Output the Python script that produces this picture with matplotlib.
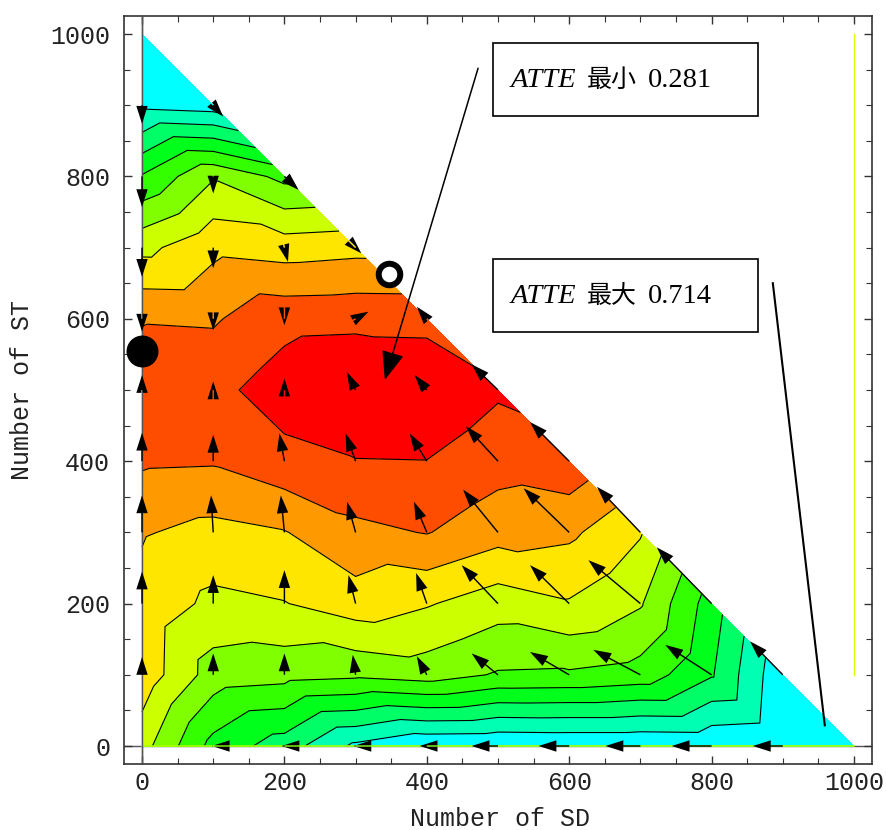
import colorsys
import numpy as np
import matplotlib
matplotlib.use('Agg')
import matplotlib.pyplot as plt
import matplotlib.tri as mtri
from matplotlib.patches import Rectangle
from matplotlib.ticker import MultipleLocator
from matplotlib.offsetbox import TextArea, HPacker, AnnotationBbox

plt.rcParams['font.family'] = ['Liberation Mono', 'DejaVu Sans']

# population grid: SD along x, ST along y, only SD + ST <= 1000
sd_values = [0, 100, 200, 300, 400, 500, 600, 700, 800, 900, 1000]
st_values = [0, 100, 200, 300, 400, 500, 600, 700, 800, 900, 1000]

# ATTE for each SD column, from ST = 0 up to the SD + ST = 1000 edge
atte_by_sd = [
    [0.462, 0.413, 0.411, 0.396, 0.354, 0.340, 0.362, 0.450, 0.553, 0.686, 0.706],
    [0.570, 0.496, 0.448, 0.411, 0.356, 0.332, 0.364, 0.409, 0.482, 0.694],
    [0.616, 0.503, 0.440, 0.401, 0.333, 0.300, 0.333, 0.417, 0.529],
    [0.683, 0.509, 0.417, 0.370, 0.322, 0.281, 0.331, 0.411],
    [0.710, 0.498, 0.435, 0.358, 0.321, 0.289, 0.332],
    [0.712, 0.521, 0.460, 0.383, 0.344, 0.315],
    [0.710, 0.523, 0.442, 0.391, 0.332],
    [0.710, 0.533, 0.474, 0.435],
    [0.708, 0.592, 0.576],
    [0.714, 0.706],
    [0.710],
]

# change of (SD, ST) at every grid point, same layout as atte_by_sd
flow_sd = [
    [0, 0, 0, 0, 0, 0, 0, 0, 0, 0, 0],
    [-2, 0, 0, -3, 0, 0, 0, 0, 0, 14],
    [-4, 0, 0, -5, -7, 0, 0, 5, 20],
    [-3, -4, -10, -12, -14, -12, 18, 8],
    [-10, -14, -15, -18, -24, -17, -14],
    [-37, -37, -51, -49, -45, -37],
    [-43, -55, -55, -64, -55],
    [-49, -66, -73, -61],
    [-56, -65, -77],
    [-42, -46],
    [0],
]
flow_st = [
    [0, 25, 45, 52, 40, 21, -18, -41, -43, -26, 0],
    [0, 30, 40, 52, 37, 12, -16, -29, -24, -16],
    [0, 30, 47, 52, 39, 16, -9, -20, -19],
    [0, 28, 40, 43, 39, 25, 10, -8],
    [0, 26, 43, 43, 39, 21, 17],
    [0, 30, 54, 60, 49, 36],
    [0, 32, 54, 62, 55],
    [0, 35, 61, 64],
    [0, 42, 79],
    [0, 47],
    [0],
]

# equilibria: on the ST axis and on the SD + ST = 1000 edge
stable_st_axis = (0, 555)
stable_edge = (347, 663)

atte_min, atte_max = 0.281, 0.714

# flatten the grid and build the triangles of the simplex
xs, ys, zs, us, vs = [], [], [], [], []
idx = {}
for i, col in enumerate(atte_by_sd):
    for j, z in enumerate(col):
        idx[(i, j)] = len(xs)
        xs.append(sd_values[i])
        ys.append(st_values[j])
        zs.append(z)
        us.append(flow_sd[i][j])
        vs.append(flow_st[i][j])
xs, ys, zs = np.array(xs), np.array(ys), np.array(zs)
us, vs = np.array(us, float), np.array(vs, float)

n = len(sd_values) - 1
tris = []
for i in range(n):
    for j in range(n - i):
        tris.append([idx[(i, j)], idx[(i + 1, j)], idx[(i, j + 1)]])
        if i + j + 1 < n:
            tris.append([idx[(i + 1, j)], idx[(i + 1, j + 1)], idx[(i, j + 1)]])
tri = mtri.Triangulation(xs, ys, tris)

levels = np.linspace(atte_min, atte_max, 12)
band_colors = [colorsys.hsv_to_rgb(0.05 * k, 1, 1) for k in range(11)]

fig = plt.figure(figsize=(8.87, 8.30), dpi=100)
ax = fig.add_axes([0.1398, 0.0795, 0.8433, 0.9012])

ax.axvline(0, color='#555555', lw=1.0, zorder=0.5)
ax.axhline(0, color='#555555', lw=1.0, zorder=0.5)

ax.tricontourf(tri, zs, levels=levels, colors=band_colors, zorder=1)
ax.tricontour(tri, zs, levels=levels[1:-1], colors='black', linewidths=0.8, zorder=2)

# thin coloured seams along the bottom edge and the SD = 1000 side
ax.plot([sd_values[0], sd_values[-1]], [st_values[0], st_values[0]],
        color='#A6FF00', lw=1.2, zorder=2.5)
ax.plot([sd_values[-1], sd_values[-1]], [st_values[1], st_values[-1]],
        color='#DDFF00', lw=1.0, zorder=2.5)
ax.axvline(0, color='#555555', lw=1.0, zorder=2.6)

moving = (us != 0) | (vs != 0)
ax.quiver(xs[moving], ys[moving], us[moving], vs[moving],
          angles='xy', scale_units='xy', scale=1, units='xy',
          width=2.0, headwidth=8.0, headlength=12.5, headaxislength=12.5,
          minshaft=0, minlength=0, color='black', zorder=3)

ax.plot(*stable_st_axis, 'o', ms=22, color='black', zorder=4, clip_on=False)
ax.plot(*stable_edge, 'o', ms=15.5, mfc='white', mec='black', mew=4.3, zorder=4)

# callouts for the extreme values
ax.annotate('', xy=(341, 514), xytext=(472, 952),
            arrowprops=dict(arrowstyle='-|>,head_length=1.8,head_width=0.7',
                            mutation_scale=10, color='black', lw=1.1,
                            shrinkA=0, shrinkB=0), zorder=5)
ax.plot([886, 959], [650, 29], color='black', lw=1.5, zorder=5)


def atte_box(word, value, y0, y1):
    ax.add_patch(Rectangle((493, y0), 372, y1 - y0, facecolor='white',
                           edgecolor='black', lw=1.2, zorder=5))
    parts = [
        TextArea('ATTE', textprops=dict(family='Liberation Serif', style='italic', size=20.5)),
        TextArea(word, textprops=dict(family='Noto Sans CJK SC', size=18)),
        TextArea(value, textprops=dict(family='Liberation Serif', size=20.5)),
    ]
    pack = HPacker(children=parts, align='baseline', pad=0, sep=8)
    ab = AnnotationBbox(pack, (517, (y0 + y1) / 2), xycoords='data',
                        box_alignment=(0, 0.5), frameon=False, pad=0, zorder=6)
    ax.add_artist(ab)


atte_box('最小', f'{atte_min:.3f}', 885, 987)
atte_box('最大', f'{atte_max:.3f}', 581, 684)

ax.set_xlim(-25.3, 1025.3)
ax.set_ylim(-25.3, 1025.3)
for axis in (ax.xaxis, ax.yaxis):
    axis.set_major_locator(MultipleLocator(200))
    axis.set_minor_locator(MultipleLocator(50))
ax.tick_params(which='both', direction='in', top=True, right=True, color='#333333')
ax.tick_params(which='major', length=6, width=1.0, labelsize=18, labelcolor='#222222')
ax.tick_params(which='minor', length=4, width=0.8)
ax.tick_params(axis='x', pad=5)
ax.tick_params(axis='y', pad=10)
for s in ax.spines.values():
    s.set_color('#333333')
    s.set_linewidth(1.2)

ax.set_xlabel('Number of SD', fontsize=18, color='#222222')
ax.set_ylabel('Number of ST', fontsize=18, color='#222222')
ax.xaxis.set_label_coords(0.503, -0.073)
ax.xaxis.label.set_va('center')
ax.yaxis.set_label_coords(-0.136, 0.5)
ax.yaxis.label.set_va('center')

fig.savefig('out.png', dpi=100)
